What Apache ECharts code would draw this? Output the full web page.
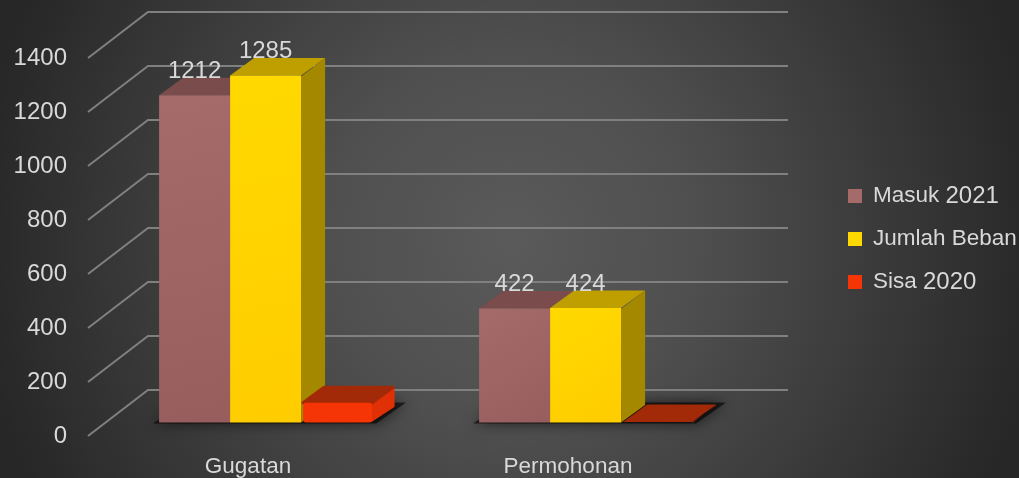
<!DOCTYPE html>
<html><head><meta charset="utf-8">
<style>html,body{margin:0;padding:0;background:#333}#c{width:1019px;height:478px}</style>
<script src="https://cdn.jsdelivr.net/npm/echarts@6/dist/echarts.min.js"></script>
</head><body><div id="c"></div>
<script>
const categories = ['Gugatan', 'Permohonan'];
const masuk2021 = [1212, 422];
const jumlahBeban = [1285, 424];
const sisa2020 = [73, 2];
const yTicks = [0, 200, 400, 600, 800, 1000, 1200, 1400];

const FONT = '"Liberation Sans", Arial, sans-serif';
const TXT = '#d9d9d9';
// oblique projection offsets, in pixels
const WALL = [60, -46], BAR_SHIFT = [17.6, -13.5], BAR_DEPTH = [24, -17.5];
const BAR_RATIO = 71 / 320;

function grad(a, b) {
  return {type: 'linear', x: 0, y: 0, x2: 1, y2: 1, colorStops: [{offset: 0, color: a}, {offset: 1, color: b}]};
}
function barItem(offset, c) {
  return function (params, api) {
    const band = api.size([1, 0])[0], w = band * BAR_RATIO;
    const v = api.value(1);
    const p = api.coord([api.value(0), v]), b = api.coord([api.value(0), 0]);
    const x0 = p[0] + BAR_SHIFT[0] + offset * w - w / 2 + (c.inset || 0);
    const x1 = x0 + w - (c.inset || 0);
    const yt = p[1] + BAR_SHIFT[1], yb = b[1] + BAR_SHIFT[1];
    const tall = yb - yt > 4;
    const round = c.round && tall;
    const dx = round ? 21 : BAR_DEPTH[0], dy = round ? -15.5 : BAR_DEPTH[1];
    const stroke = (col) => round ? {stroke: col, lineWidth: 3, lineJoin: 'round'} : {};
    const kids = [];
    kids.push({type: 'polygon', shape: {points: [[x1 - (round ? 1 : 0), yt + 1], [x1 + dx, yt + dy], [x1 + dx, yb + dy - (round ? 1 : 0)], [x1 - (round ? 1 : 0), yb - (round ? 2 : 0)]]},
      style: Object.assign({fill: c.side}, stroke(c.side))});
    kids.push({type: 'polygon', shape: {points: [[x0, yt], [x0 + dx, yt + dy], [x1 + dx, yt + dy], [x1, yt]]},
      style: Object.assign({fill: c.top}, stroke(c.top))});
    if (tall) {
      kids.push({type: 'rect', shape: {x: x0, y: yt, width: x1 - x0, height: yb - yt, r: round ? 3 : 0},
        style: {fill: c.front}});
    }
    if (c.label) {
      kids.push({type: 'text', z2: 50, style: {text: String(v), x: (x0 + x1) / 2, y: yt - 24,
        align: 'center', verticalAlign: 'middle', fill: TXT, font: '24px ' + FONT}});
    }
    return {type: 'group', children: kids};
  };
}

const chart = echarts.init(document.getElementById('c'), null, {renderer: 'canvas'});
chart.setOption({
  animation: false,
  backgroundColor: {type: 'radial', x: 0.5, y: 0.5, r: 1.12, colorStops: [
    {offset: 0, color: '#5a5a5a'}, {offset: 0.35, color: '#4f4f4f'}, {offset: 1, color: '#272727'}]},
  grid: {left: 88, width: 640, top: 58, height: 378, outerBoundsMode: 'none'},
  xAxis: {type: 'category', data: categories, axisLine: {show: false}, axisTick: {show: false},
    axisLabel: {color: TXT, fontFamily: FONT, fontSize: 22.5, margin: 19}},
  yAxis: {type: 'value', min: 0, max: 1400, interval: 200, axisLine: {show: false}, axisTick: {show: false},
    splitLine: {show: false}, axisLabel: {color: TXT, fontFamily: FONT, fontSize: 24, margin: 21, padding: [0, 0, 2, 0], formatter: v => String(v)}},
  legend: {orient: 'vertical', left: 843, top: 179, icon: 'rect', itemWidth: 14, itemHeight: 14, itemGap: 19.5,
    data: ['Masuk 2021', 'Jumlah Beban', 'Sisa 2020'], selectedMode: false,
    formatter: name => name.replace(/(\d+)/, '{d|$1}'),
    textStyle: {color: TXT, fontFamily: FONT, fontSize: 22.5, padding: [0, 0, 0, 6],
      rich: {d: {color: TXT, fontFamily: FONT, fontSize: 24}}}},
  series: [
    {type: 'custom', name: 'wall', silent: true, data: yTicks.map(v => [0, v]), encode: {x: 0, y: 1},
      renderItem(params, api) {
        const y = api.coord([0, api.value(1)])[1];
        const x = params.coordSys.x, w = params.coordSys.width;
        const st = {stroke: '#808080', lineWidth: 2, fill: 'none'};
        return {type: 'polyline', shape: {points: [[x, y], [x + WALL[0], y + WALL[1]], [x + WALL[0] + w, y + WALL[1]]]}, style: st};
      }},
    {type: 'custom', name: 'floor', silent: true, data: categories.map((c, i) => [i, 0]), encode: {x: 0, y: 1},
      renderItem(params, api) {
        const band = api.size([1, 0])[0], w = band * BAR_RATIO;
        const p = api.coord([api.value(0), 0]);
        const cx = p[0] + BAR_SHIFT[0], yb = p[1] + BAR_SHIFT[1];
        const x0 = cx - 1.5 * w, x1 = cx + 1.5 * w;
        return {type: 'polygon', shape: {points: [[x0 - 6, yb + 1], [x1 + 4, yb + 1], [x1 + 34, yb - 20], [x0 + 24, yb - 20]]},
          style: {fill: 'rgba(0,0,0,0.6)', shadowColor: 'rgba(0,0,0,1)', shadowBlur: 14}};
      }},
    {type: 'custom', name: 'Masuk 2021', itemStyle: {color: '#a56a6a'}, data: masuk2021.map((v, i) => [i, v]), encode: {x: 0, y: 1},
      renderItem: barItem(-1, {front: grad('#a56a6a', '#985e5e'), top: '#7a4c4c', side: '#6e4444', label: true})},
    {type: 'custom', name: 'Jumlah Beban', itemStyle: {color: '#ffd800'}, data: jumlahBeban.map((v, i) => [i, v]), encode: {x: 0, y: 1},
      renderItem: barItem(0, {front: grad('#ffd900', '#ffcc00'), top: '#bf9f00', side: '#a38800', label: true})},
    {type: 'custom', name: 'Sisa 2020', itemStyle: {color: '#f53505'}, data: sisa2020.map((v, i) => [i, v]), encode: {x: 0, y: 1},
      renderItem: barItem(1, {front: '#f53505', top: '#a32a08', side: '#e03005', round: true, inset: 2})}
  ]
});
</script></body></html>
